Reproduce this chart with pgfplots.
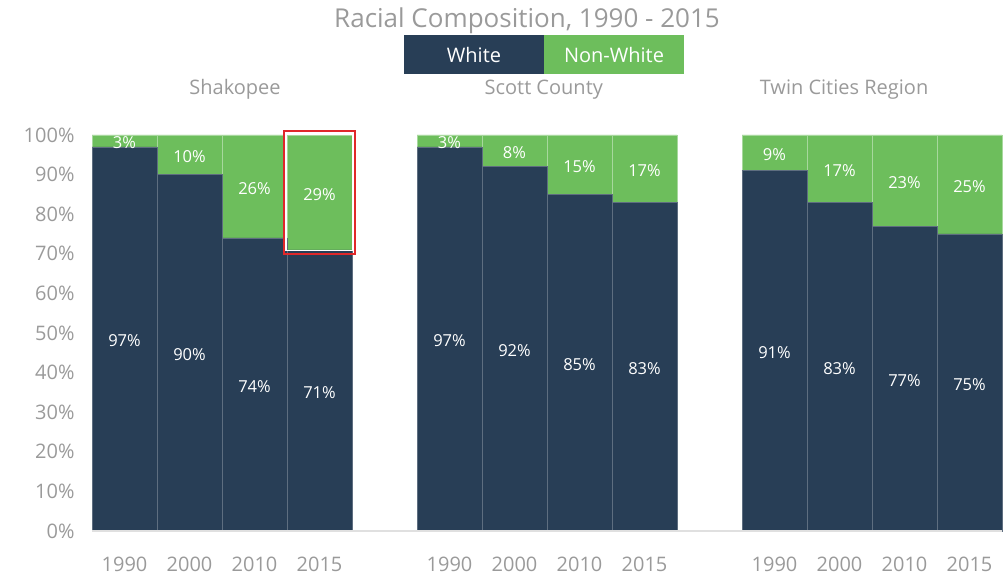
\documentclass[border=0pt]{standalone}
\usepackage{pgfplots}
\pgfplotsset{compat=1.18}
\usepackage{pgfplotstable}
\usepackage{fontspec}
\setmainfont{Open Sans}
\definecolor{navy}{HTML}{283E56}
\definecolor{grn}{HTML}{6DBE5C}
\definecolor{txtgray}{HTML}{9A9A9A}
\definecolor{redbox}{HTML}{E0282A}
\pgfplotstableread{
x W N
0 97 3
1 90 10
2 74 26
3 71 29
5 97 3
6 92 8
7 85 15
8 83 17
10 91 9
11 83 17
12 77 23
13 75 25
}\data
\begin{document}
\begin{tikzpicture}[x=1pt,y=1pt]
\path[use as bounding box] (0,0) rectangle (1005,576);
\begin{axis}[
  at={(92pt,45pt)}, anchor=south west,
  scale only axis, width=910pt, height=396pt,
  ybar stacked, bar width=1,
  xmin=-0.5, xmax=13.5, ymin=0, ymax=100,
  axis line style={draw=none},
  major tick length=0pt,
  clip=false,
  ytick={0,10,...,100},
  yticklabel={\pgfmathprintnumber{\tick}\%},
  /pgf/number format/assume math mode=true,
  yticklabel style={font=\fontsize{20}{20}\selectfont, text=txtgray, xshift=-14pt},
  xtick={0,1,2,3,5,6,7,8,10,11,12,13},
  xticklabels={1990,2000,2010,2015,1990,2000,2010,2015,1990,2000,2010,2015},
  xticklabel style={font=\fontsize{20}{20}\selectfont, text=txtgray, yshift=-22pt},
  point meta=explicit symbolic,
  nodes near coords={\pgfplotspointmeta\%},
  every node near coord/.append style={anchor=center, text=white, font=\fontsize{16.5}{16.5}\selectfont, yshift=-2pt},
]
\draw[black!12, line width=1.5pt] (axis cs:-0.5,0) -- (axis cs:13.5,0);
\addplot[fill=navy, draw=navy!75!white, line width=0.6pt]
  table[x=x, y=W, meta=W]{\data};
\addplot[fill=grn, draw=grn!60!white, line width=0.6pt]
  table[x=x, y=N, meta=N]{\data};
\coordinate (rbA) at (axis cs:2.5,71);
\coordinate (rbB) at (axis cs:3.5,100);
\node[text=txtgray, font=\fontsize{20}{20}\selectfont] at (axis cs:1.7,111.5) {Shakopee};
\node[text=txtgray, font=\fontsize{20}{20}\selectfont] at (axis cs:6.45,111.5) {Scott County};
\node[text=txtgray, font=\fontsize{20}{20}\selectfont] at (axis cs:11.07,111.5) {Twin Cities Region};
\end{axis}
\draw[white, line width=1.2pt] ([xshift=-1pt,yshift=-1pt]rbA) rectangle ([xshift=1pt,yshift=1pt]rbB);
\draw[redbox, line width=2.2pt] ([xshift=-3pt,yshift=-4pt]rbA) rectangle ([xshift=3pt,yshift=4pt]rbB);
\node[text=txtgray, font=\fontsize{26}{26}\selectfont] at (527,555) {Racial Composition, 1990 - 2015};
\fill[navy] (404,502) rectangle (544,541);
\fill[grn] (544,502) rectangle (684,541);
\node[text=white, font=\fontsize{20}{20}\selectfont] at (474,521) {White};
\node[text=white, font=\fontsize{20}{20}\selectfont] at (614,521) {Non-White};
\end{tikzpicture}
\end{document}
